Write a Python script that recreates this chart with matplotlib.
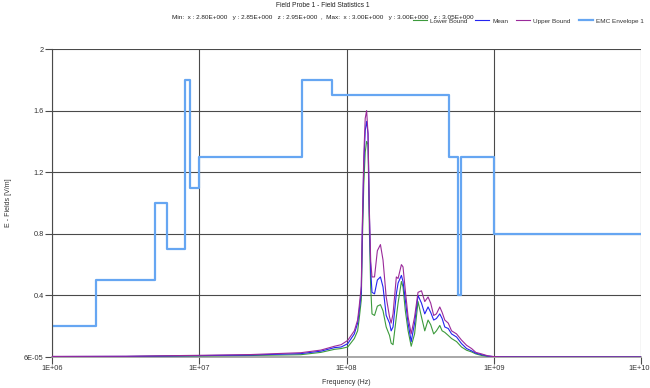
import matplotlib
matplotlib.use("Agg")
import matplotlib.pyplot as plt
import matplotlib.transforms as mtransforms

# ---- data ----
freq_hz = [1.0e6, 3.2e6, 1.0e7, 2.24e7, 4.9e7, 6.7e7, 8.3e7, 9.2e7, 1.02e8, 1.13e8,
           1.19e8, 1.22e8, 1.26e8, 1.28e8, 1.31e8, 1.34e8, 1.37e8, 1.40e8, 1.43e8, 1.46e8,
           1.49e8, 1.55e8, 1.62e8, 1.70e8, 1.77e8, 1.86e8, 1.96e8, 2.01e8, 2.07e8, 2.18e8,
           2.24e8, 2.36e8, 2.42e8, 2.51e8, 2.62e8, 2.75e8, 2.90e8, 3.06e8, 3.23e8, 3.40e8,
           3.58e8, 3.73e8, 3.91e8, 4.08e8, 4.30e8, 4.46e8, 4.65e8, 4.91e8, 5.17e8, 5.59e8,
           6.04e8, 6.54e8, 7.07e8, 7.56e8, 8.27e8, 9.09e8, 9.93e8, 1.13e9, 1.55e9, 1.0e10]

upper_bound = [0.004, 0.005, 0.011, 0.016, 0.028, 0.045, 0.070, 0.080, 0.108, 0.17,
               0.24, 0.33, 0.46, 0.85, 1.30, 1.55, 1.60, 1.45, 0.95, 0.62,
               0.52, 0.52, 0.69, 0.73, 0.63, 0.39, 0.26, 0.22, 0.28, 0.52,
               0.51, 0.60, 0.585, 0.43, 0.26, 0.15, 0.26, 0.42, 0.43, 0.36,
               0.39, 0.35, 0.27, 0.28, 0.325, 0.29, 0.24, 0.22, 0.17, 0.15,
               0.11, 0.076, 0.055, 0.030, 0.020, 0.008, 0.003, 0.001, 0.0003, 0.0001]

mean = [0.003, 0.004, 0.009, 0.013, 0.022, 0.038, 0.061, 0.065, 0.087, 0.15,
        0.22, 0.30, 0.42, 0.80, 1.24, 1.47, 1.53, 1.45, 0.92, 0.56,
        0.42, 0.41, 0.50, 0.52, 0.455, 0.27, 0.22, 0.17, 0.195, 0.41,
        0.48, 0.53, 0.49, 0.37, 0.22, 0.10, 0.22, 0.40, 0.35, 0.28,
        0.325, 0.29, 0.24, 0.25, 0.28, 0.25, 0.195, 0.185, 0.15, 0.13,
        0.087, 0.055, 0.040, 0.025, 0.015, 0.006, 0.003, 0.001, 0.0003, 0.0001]

lower_bound = [0.002, 0.003, 0.007, 0.010, 0.015, 0.030, 0.050, 0.055, 0.065, 0.12,
               0.17, 0.25, 0.37, 0.72, 1.12, 1.33, 1.40, 1.38, 0.82, 0.45,
               0.28, 0.27, 0.33, 0.34, 0.30, 0.195, 0.14, 0.09, 0.08, 0.26,
               0.35, 0.49, 0.455, 0.30, 0.17, 0.07, 0.15, 0.36, 0.26, 0.17,
               0.24, 0.21, 0.15, 0.17, 0.205, 0.17, 0.16, 0.14, 0.12, 0.10,
               0.065, 0.044, 0.033, 0.020, 0.010, 0.004, 0.002, 0.001, 0.0003, 0.0001]

env_freq = [1e6, 2e6, 5e6, 6e6, 8e6, 8.6e6, 1e7, 5e7, 8e7, 5e8, 5.7e8, 6e8, 1e9, 1e10]
env_level = [0.2, 0.5, 1.0, 0.7, 1.8, 1.1, 1.3, 1.8, 1.7, 1.3, 0.4, 1.3, 0.8, 0.8]

x_ticks = [1e6, 1e7, 1e8, 1e9, 1e10]
x_labels = ["1E+06", "1E+07", "1E+08", "1E+09", "1E+10"]
y_ticks = [6e-05, 0.4, 0.8, 1.2, 1.6, 2.0]
y_labels = ["6E-05", "0.4", "0.8", "1.2", "1.6", "2"]

# ---- colours ----
GREEN = "#3c9a3c"
BLUE = "#2424f0"
PURPLE = "#9a2a9a"
ENV = "#66a6f2"
GRID = "#4a4a4a"
TXT = "#333333"

plt.rcParams["font.family"] = ["Liberation Sans", "DejaVu Sans"]

fig = plt.figure(figsize=(6.5, 3.88), dpi=100)
ax = fig.add_axes([52 / 650, 1 - 357 / 388, 589 / 650, 308 / 388])

ax.plot(freq_hz, lower_bound, color=GREEN, lw=0.8, label="Lower Bound", zorder=3)
ax.plot(freq_hz, mean, color=BLUE, lw=0.8, label="Mean", zorder=4)
ax.plot(freq_hz, upper_bound, color=PURPLE, lw=0.8, label="Upper Bound", zorder=5)
ax.step(env_freq, env_level, where="post", color=ENV, lw=1.6,
        label="EMC Envelope 1", zorder=2)

ax.set_xscale("log")
ax.set_xlim(1e6, 1e10)
ax.set_ylim(6e-05, 2.0)
ax.set_xticks(x_ticks)
ax.set_xticklabels(x_labels)
ax.minorticks_off()
ax.set_yticks(y_ticks)
ax.set_yticklabels(y_labels)
ax.tick_params(labelsize=5.3, length=5, width=0.8, color=GRID, pad=1, labelcolor=TXT)

# nudge the last x label so it stays inside the picture
last = ax.get_xticklabels()[-1]
last.set_transform(last.get_transform() +
                   mtransforms.ScaledTranslation(-2 / 100, 0, fig.dpi_scale_trans))

ax.grid(True, color=GRID, lw=0.8, zorder=1)
ax.set_axisbelow(True)
for s in ["top", "right"]:
    ax.spines[s].set_visible(False)
ax.spines["left"].set_color(GRID)
ax.spines["bottom"].set_color("#9a9a9a")
ax.spines["bottom"].set_linewidth(1.2)

ax.set_xlabel("Frequency (Hz)", fontsize=5.0, color=TXT, labelpad=5)
ax.set_ylabel("E - Fields [V/m]", fontsize=5.0, color=TXT, labelpad=9)

fig.text(322.5 / 650, 1 - 5.5 / 388, "Field Probe 1 - Field Statistics 1",
         ha="center", va="center", fontsize=4.8, color="#222222")
fig.text(322.5 / 650, 1 - 18 / 388,
         "Min:  x : 2.80E+000   y : 2.85E+000   z : 2.95E+000  ,  "
         "Max:  x : 3.00E+000   y : 3.00E+000   z : 3.05E+000",
         ha="center", va="center", fontsize=4.6, color="#222222")

fig.legend(loc="center left", bbox_to_anchor=(413 / 650, 1 - 21 / 388), ncol=4,
           frameon=False, fontsize=4.6, handlelength=2.2, columnspacing=1.2,
           handletextpad=0.5, borderpad=0, borderaxespad=0, labelcolor=TXT)

fig.savefig("out.png", dpi=100, facecolor="white")
